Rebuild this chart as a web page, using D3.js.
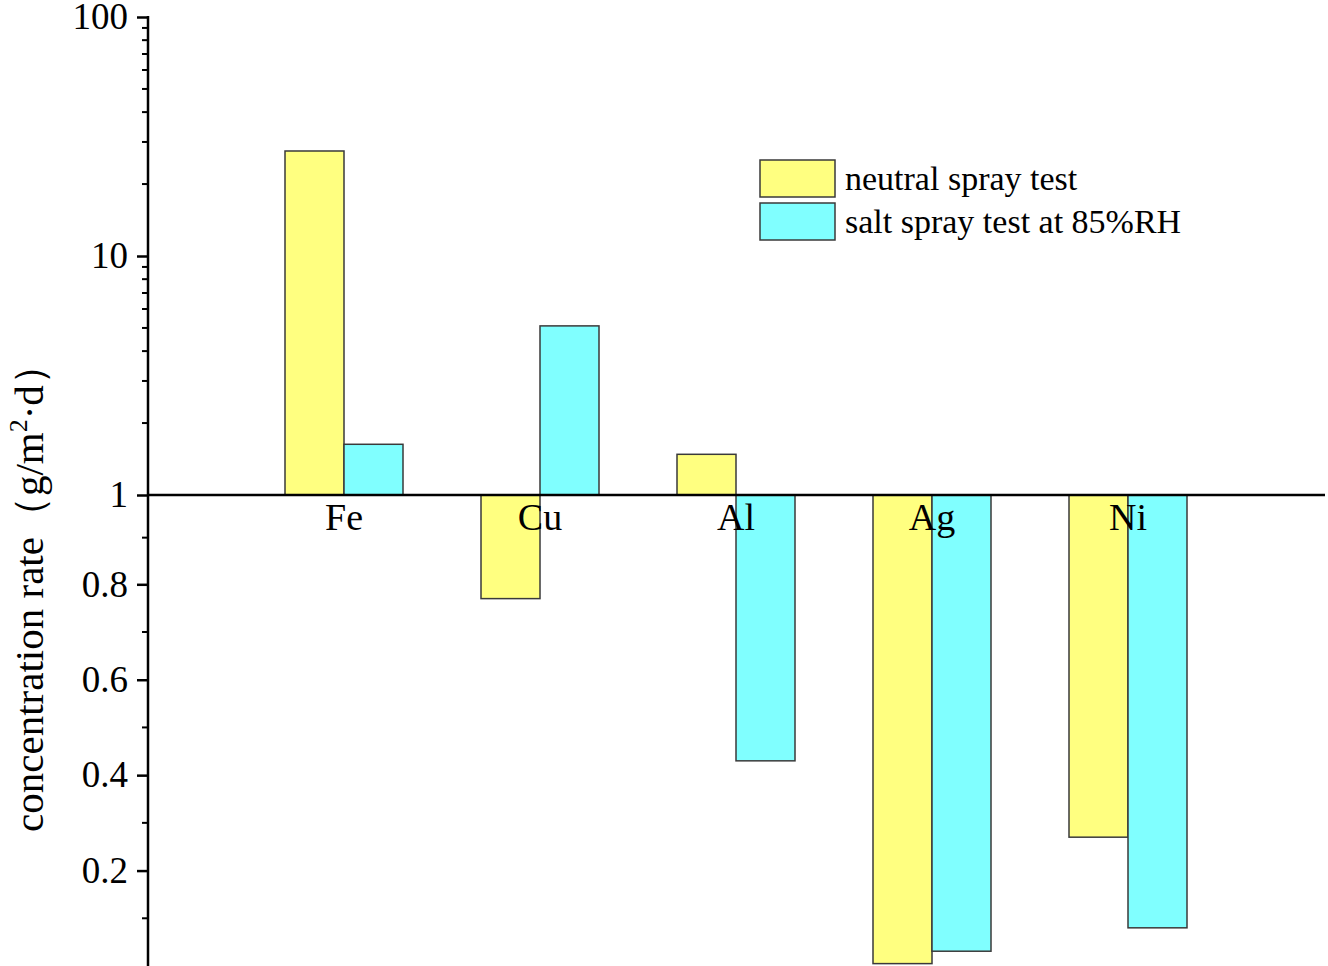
<!DOCTYPE html>
<html>
<head>
<meta charset="utf-8">
<script src="https://cdn.jsdelivr.net/npm/d3@7"></script>
<style>
  body { margin: 0; background: #fff; }
  text { font-family: "Liberation Serif", "Times New Roman", serif; fill: #000; }
</style>
</head>
<body>
<svg id="chart" width="1328" height="966"></svg>
<script>
// data
const metals = ["Fe", "Cu", "Al", "Ag", "Ni"];
const neutralSpray = [27.5, 0.77, 1.48, 0.005, 0.27];
const saltSpray85 = [1.63, 5.1, 0.43, 0.031, 0.08];
const seriesNames = ["neutral spray test", "salt spray test at 85%RH"];
const seriesColors = ["#ffff80", "#80ffff"];
const upperTicks = [1, 10, 100];
const lowerTicks = [0.2, 0.4, 0.6, 0.8];

const svg = d3.select("#chart");
const axisX = 148;
const rightX = 1325;

// break axis: log scale above 1, linear scale below 1
const yLog = d3.scaleLog().domain([1, 100]).range([495, 17]);
const yLin = d3.scaleLinear().domain([0, 0.8]).range([966, 584.3]);
const yVal = v => v >= 1 ? yLog(v) : yLin(v);
const base = yLog(1);

const x = d3.scalePoint().domain(metals).range([axisX, rightX - 1]).padding(1);
const barW = 59;

const series = [neutralSpray, saltSpray85];
series.forEach((vals, s) => {
    svg.append("g").selectAll("rect")
        .data(metals)
        .enter().append("rect")
        .attr("x", d => s === 0 ? x(d) - barW : x(d))
        .attr("width", barW)
        .attr("y", (d, i) => Math.min(base, yVal(vals[i])))
        .attr("height", (d, i) => Math.abs(yVal(vals[i]) - base))
        .attr("fill", seriesColors[s])
        .attr("stroke", "#3a3a3a")
        .attr("stroke-width", 1.5);
});

// baseline at 1
svg.append("line")
    .attr("x1", axisX).attr("x2", rightX)
    .attr("y1", base).attr("y2", base)
    .attr("stroke", "#000").attr("stroke-width", 2.5);

// category labels
svg.append("g").selectAll("text")
    .data(metals)
    .enter().append("text")
    .attr("x", d => x(d))
    .attr("y", 530)
    .attr("text-anchor", "middle")
    .attr("font-size", 38)
    .text(d => d);

// y axis: upper log part
const upperAxis = d3.axisLeft(yLog)
    .tickValues(upperTicks)
    .tickFormat(d3.format("d"))
    .tickSize(11)
    .tickPadding(9);
const gUp = svg.append("g").attr("transform", `translate(${axisX},0)`).call(upperAxis);

const minorUp = [];
[1, 10].forEach(dec => { for (let k = 2; k <= 9; k++) minorUp.push(dec * k); });
svg.append("g").selectAll("line")
    .data(minorUp)
    .enter().append("line")
    .attr("x1", axisX - 6).attr("x2", axisX)
    .attr("y1", d => yLog(d)).attr("y2", d => yLog(d))
    .attr("stroke", "#000").attr("stroke-width", 2);

// y axis: lower linear part
const lowerAxis = d3.axisLeft(yLin)
    .tickValues(lowerTicks)
    .tickFormat(d3.format(".1f"))
    .tickSize(11)
    .tickPadding(9);
const gLow = svg.append("g").attr("transform", `translate(${axisX},0)`).call(lowerAxis);

svg.append("g").selectAll("line")
    .data([0.1, 0.3, 0.5, 0.7, 0.9])
    .enter().append("line")
    .attr("x1", axisX - 6).attr("x2", axisX)
    .attr("y1", d => d < 0.85 ? yLin(d) : (yLin(0.8) + base) / 2 - 2)
    .attr("y2", d => d < 0.85 ? yLin(d) : (yLin(0.8) + base) / 2 - 2)
    .attr("stroke", "#000").attr("stroke-width", 2);

[gUp, gLow].forEach(g => {
    g.select(".domain").remove();
    g.selectAll(".tick line").attr("stroke", "#000").attr("stroke-width", 2.5);
    g.selectAll(".tick text")
        .attr("font-size", 37)
        .attr("font-family", "Liberation Serif, Times New Roman, serif")
        .attr("dy", "0.32em");
});

svg.append("line")
    .attr("x1", axisX).attr("x2", axisX)
    .attr("y1", 16).attr("y2", 966)
    .attr("stroke", "#000").attr("stroke-width", 2.5);

// y axis title
const title = svg.append("text")
    .attr("transform", "translate(43,588) rotate(-90)")
    .attr("text-anchor", "middle")
    .attr("font-size", 41);
title.append("tspan").text("concentration rate（g/m");
title.append("tspan").attr("dy", -16).attr("font-size", 26).text("2");
title.append("tspan").attr("dy", 16).text("·d）");

// legend
const legend = svg.append("g").attr("transform", "translate(760,160)");
seriesNames.forEach((name, i) => {
    legend.append("rect")
        .attr("x", 0).attr("y", i * 43)
        .attr("width", 75).attr("height", 37)
        .attr("fill", seriesColors[i])
        .attr("stroke", "#3a3a3a").attr("stroke-width", 1.5);
    legend.append("text")
        .attr("x", 85).attr("y", i * 43 + 30)
        .attr("font-size", 34)
        .text(name);
});
</script>
</body>
</html>
